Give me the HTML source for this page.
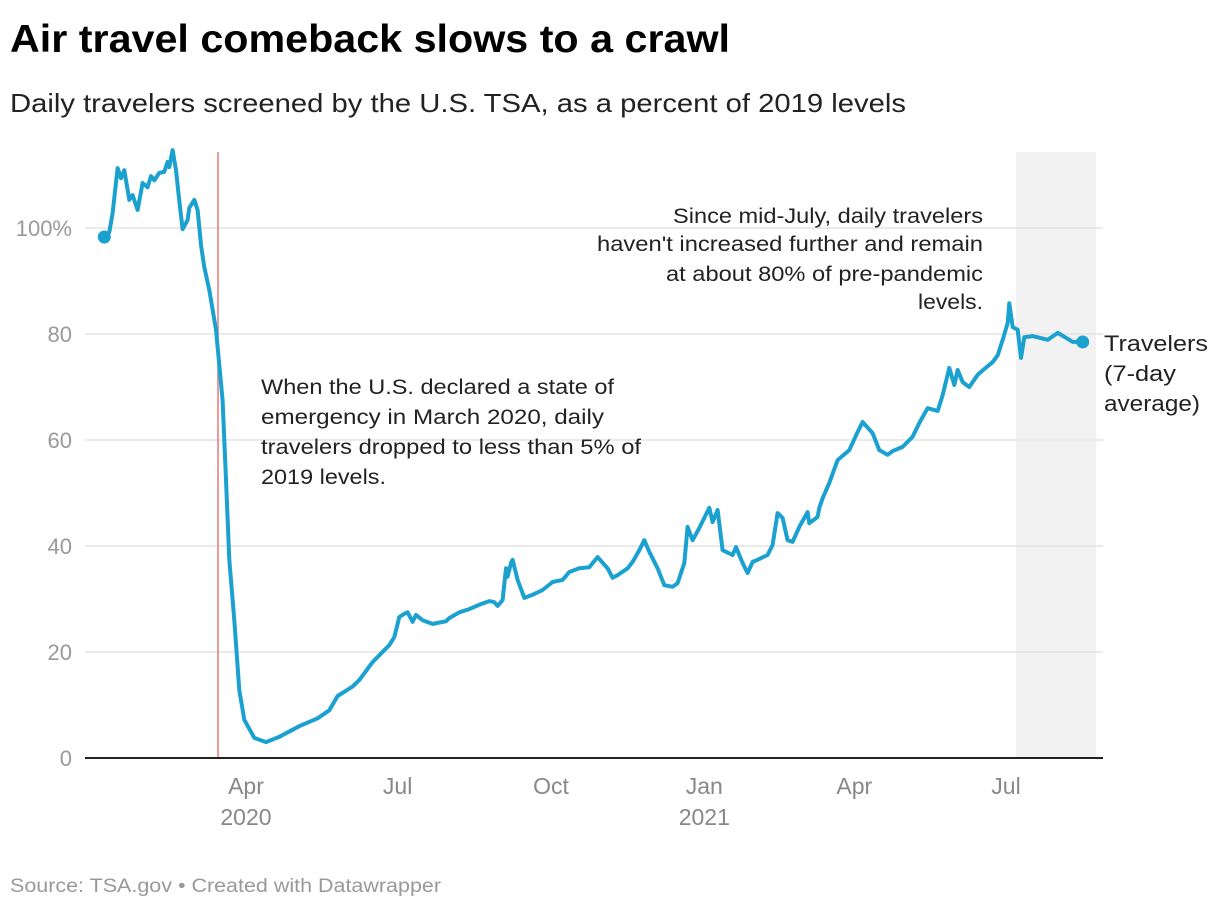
<!DOCTYPE html>
<html><head><meta charset="utf-8"><style>
body{margin:0;background:#fff;font-family:"Liberation Sans",sans-serif}
svg text{font-family:"Liberation Sans",sans-serif}
</style></head><body>
<svg id="c" width="1220" height="908" viewBox="0 0 1220 908">
<text x="10" y="52" font-size="39" font-weight="bold" fill="#000" textLength="720" lengthAdjust="spacingAndGlyphs">Air travel comeback slows to a crawl</text>
<text x="10" y="112" font-size="26" fill="#222" textLength="896" lengthAdjust="spacingAndGlyphs">Daily travelers screened by the U.S. TSA, as a percent of 2019 levels</text>
<rect x="1016" y="152" width="80" height="606" fill="#f2f2f2"/>
<g id="grid"></g>
<line x1="218" y1="152" x2="218" y2="758" stroke="#e07b7b" stroke-width="1.5"/>
<g id="xt"></g>
<path id="line" fill="none" stroke="#1ba1cf" stroke-width="4" stroke-linejoin="round"/>
<g id="dots"></g>
<line x1="85" y1="758" x2="1103" y2="758" stroke="#222" stroke-width="2"/>
<g font-size="21" fill="#222" lengthAdjust="spacingAndGlyphs">
<text x="261" y="394" textLength="353" lengthAdjust="spacingAndGlyphs">When the U.S. declared a state of</text>
<text x="261" y="424" textLength="343" lengthAdjust="spacingAndGlyphs">emergency in March 2020, daily</text>
<text x="261" y="454" textLength="380" lengthAdjust="spacingAndGlyphs">travelers dropped to less than 5% of</text>
<text x="261" y="484" textLength="125" lengthAdjust="spacingAndGlyphs">2019 levels.</text>
</g>
<g font-size="21" fill="#222" text-anchor="end">
<text x="983" y="223" textLength="310" lengthAdjust="spacingAndGlyphs">Since mid-July, daily travelers</text>
<text x="983" y="251" textLength="386" lengthAdjust="spacingAndGlyphs">haven't increased further and remain</text>
<text x="983" y="281" textLength="317" lengthAdjust="spacingAndGlyphs">at about 80% of pre-pandemic</text>
<text x="983" y="309" textLength="65" lengthAdjust="spacingAndGlyphs">levels.</text>
</g>
<g font-size="22" fill="#222">
<text x="1104" y="351" textLength="104" lengthAdjust="spacingAndGlyphs">Travelers</text>
<text x="1104" y="381" textLength="72" lengthAdjust="spacingAndGlyphs">(7-day</text>
<text x="1104" y="411" textLength="96" lengthAdjust="spacingAndGlyphs">average)</text>
</g>
<text x="10" y="892" font-size="19" fill="#999" textLength="431" lengthAdjust="spacingAndGlyphs">Source: TSA.gov • Created with Datawrapper</text>
</svg>
<script>
const yTicks=[0,20,40,60,80,100];
const yTickLabels=["0","20","40","60","80","100%"];
const xTickDays=[91,182,274,366,456,547];
const xTickLabels=["Apr","Jul","Oct","Jan","Apr","Jul"];
const xTickYears=["2020","","","2021","",""];
const days=[6,9,11,14,16,18,21,23,26,29,32,34,36,39,42,44,45,47,49,51,53,56,57,60,62,64,66,69,73,77,79,81,84,87,90,96,103,111,123,134,141,146,150,155,159,167,177,180,183,186,188,191,193,197,203,211,213,219,225,231,237,240,242,245,247,248,250,251,254,257,258,263,269,275,281,285,291,297,302,308,311,314,320,323,327,330,333,338,342,347,350,354,356,359,363,366,369,371,374,377,383,385,389,392,395,398,404,407,410,413,416,419,423,428,429,434,435,437,441,446,453,458,461,467,471,476,479,485,491,495,500,506,509,513,516,518,521,525,530,534,539,542,545,548,549,551,554,556,558,563,572,578,584,587,593];
const values=[98.3,99.2,102.8,111.3,109.4,110.9,105.3,106.2,103.4,108.5,107.7,109.8,109,110.4,110.6,112.5,111.5,114.7,110.9,105.1,99.8,101.5,103.8,105.3,103.4,96.8,92.6,88.3,80.8,67.5,52.5,37.4,26,12.8,7.2,3.8,3,4,6,7.5,9,11.7,12.5,13.5,14.7,18.1,21.3,22.8,26.6,27.2,27.5,25.7,27,26,25.3,25.8,26.4,27.5,28.1,28.9,29.6,29.4,28.7,29.8,35.8,34.2,36.8,37.4,33.6,31.1,30.2,30.8,31.7,33.2,33.6,35.1,35.8,36,37.9,35.8,34,34.5,35.8,37,39.2,41.1,38.9,35.8,32.6,32.3,33,36.8,43.6,41.1,43.4,45.3,47.2,44.5,46.8,39.2,38.3,39.8,36.8,34.9,37,37.4,38.3,40.2,46.2,45.3,41.1,40.8,43.6,46.4,44.3,45.5,47.2,49,51.9,56.2,58.1,61.5,63.4,61.3,58.1,57.2,57.9,58.7,60.6,63.2,66,65.5,68.5,73.6,70.4,73.2,70.9,70,72.3,73.4,74.7,76,78.9,82.1,85.8,81.3,80.8,75.5,79.4,79.6,78.9,80.2,79.1,78.5,78.5];
const X=d=>94.3+d*1.6667, Y=v=>758-v*5.3;
const NS="http://www.w3.org/2000/svg";
const grid=document.getElementById('grid');
yTicks.forEach((t,i)=>{
  if(t>0){const l=document.createElementNS(NS,'line');
  l.setAttribute('x1',85);l.setAttribute('x2',1103);l.setAttribute('y1',Y(t));l.setAttribute('y2',Y(t));
  l.setAttribute('stroke','#e3e3e3');l.setAttribute('stroke-width','1.5');
  
  
  grid.appendChild(l);}
  const tx=document.createElementNS(NS,'text');
  tx.setAttribute('x',72);tx.setAttribute('y',Y(t)+8);tx.setAttribute('text-anchor','end');
  tx.setAttribute('font-size','22');tx.setAttribute('fill','#999');tx.textContent=yTickLabels[i];
  
  
  grid.appendChild(tx);
});
const xt=document.getElementById('xt');
xTickDays.forEach((d,i)=>{
  const tx=document.createElementNS(NS,'text');
  tx.setAttribute('x',X(d));tx.setAttribute('y',794);tx.setAttribute('text-anchor','middle');
  tx.setAttribute('font-size','23');tx.setAttribute('fill','#888');tx.textContent=xTickLabels[i];
  
  
  xt.appendChild(tx);
  if(xTickYears[i]){const ty=document.createElementNS(NS,'text');
  ty.setAttribute('x',X(d));ty.setAttribute('y',825);ty.setAttribute('text-anchor','middle');
  ty.setAttribute('font-size','23');ty.setAttribute('fill','#888');ty.textContent=xTickYears[i];
  
  
  xt.appendChild(ty);}
});
document.getElementById('line').setAttribute('d',days.map((d,i)=>(i?'L':'M')+X(d).toFixed(1)+','+Y(values[i]).toFixed(1)).join(''));
const dots=document.getElementById('dots');
[0,days.length-1].forEach(i=>{
  const c=document.createElementNS(NS,'circle');
  c.setAttribute('cx',X(days[i]));c.setAttribute('cy',Y(values[i]));c.setAttribute('r',6.5);c.setAttribute('fill','#1ba1cf');
  
  
  dots.appendChild(c);
});
</script>
</body></html>
